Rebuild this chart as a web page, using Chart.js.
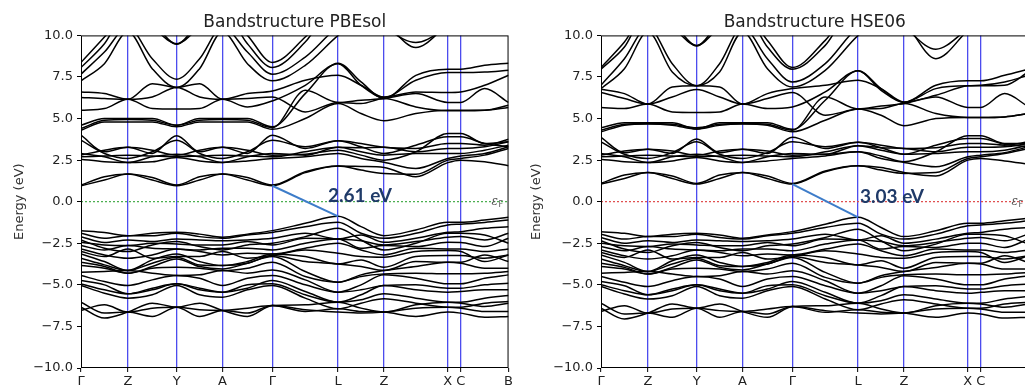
<!DOCTYPE html>
<html>
<head>
<meta charset="utf-8">
<script src="https://cdn.jsdelivr.net/npm/chart.js@4.4.1/dist/chart.umd.min.js"></script>
<style>
  html, body { margin:0; padding:0; background:#fff; width:1025px; height:385px; overflow:hidden; }
  canvas { position:absolute; top:0; }
  #c1 { left:0; }
  #c2 { left:520px; }
</style>
</head>
<body>
<canvas id="c1" width="515" height="385"></canvas>
<canvas id="c2" width="515" height="385"></canvas>
<script>
// ---- high-symmetry path ----
const kTicks  = [0, 47, 96, 142, 192, 258, 304, 368, 381, 429];
const kLabels = ['Γ', 'Z', 'Y', 'A', 'Γ', 'L', 'Z', 'X', 'C', 'B'];
// sampled k positions (high-symmetry points and midpoints)
const kSample = [0, 23.5, 47, 71.5, 96, 119, 142, 167, 192, 225, 258, 281, 304, 336, 368, 381, 405, 429];

const yTicks = [-10, -7.5, -5, -2.5, 0, 2.5, 5, 7.5, 10];

// ---- PBEsol bands (eV) ----
const pbesolHigh = [
  [8.37, 9.9, 11.5, 10.8, 9.47, 10.8, 11.5, 10.0, 8.37, 9.9, 12, 11.5, 10.5, 9.57, 10.5, 11, 12, 12],
  [8.07, 9.5, 11.5, 10.5, 9.5, 10.5, 11.5, 9.5, 8.07, 9.6, 12, 11.5, 10.8, 9.27, 10.6, 11, 12, 12],
  [7.67, 9.0, 10.5, 8.6, 7.37, 8.6, 10.5, 9.0, 7.67, 8.7, 10.5, 11, 11, 10.8, 11, 11, 11, 11],
  [7.27, 8.3, 10.2, 8.0, 6.87, 8.0, 10.2, 8.3, 7.27, 8.2, 10.0, 11, 11, 10.9, 11, 11, 11, 11]
];
const pbesolConduction = [
  [0.96, 1.3, 1.66, 1.3, 0.96, 1.3, 1.66, 1.3, 0.96, 1.75, 2.15, 2.12, 2.06, 1.5, 2.35, 2.5, 2.4, 2.16],
  [1.0, 1.5, 1.66, 1.45, 1.0, 1.5, 1.66, 1.45, 1.0, 1.8, 2.15, 1.9, 1.7, 1.65, 2.5, 2.6, 2.8, 3.2],
  [2.56, 2.4, 2.36, 2.4, 2.66, 2.45, 2.36, 2.45, 2.6, 2.7, 2.9, 2.6, 2.37, 2.0, 2.6, 2.75, 2.9, 3.3],
  [2.9, 2.7, 2.36, 2.7, 2.86, 2.7, 2.36, 2.7, 2.9, 2.8, 3.27, 3.0, 2.8, 2.9, 2.9, 2.9, 3.1, 3.4],
  [2.7, 2.75, 2.8, 2.75, 2.7, 2.75, 2.8, 2.75, 2.7, 3.0, 3.27, 3.25, 3.27, 3.0, 3.2, 3.2, 3.3, 3.6],
  [4.0, 3.0, 3.27, 2.9, 3.97, 3.0, 3.27, 2.9, 4.0, 3.2, 3.66, 3.5, 3.27, 3.2, 3.5, 3.5, 3.4, 3.75],
  [3.7, 2.9, 2.6, 3.0, 3.7, 2.9, 2.6, 3.0, 3.7, 3.3, 3.66, 3.3, 2.9, 3.4, 3.9, 3.9, 3.5, 3.3],
  [2.8, 3.1, 3.27, 3.1, 2.8, 3.1, 3.27, 3.1, 2.8, 2.85, 3.1, 2.8, 2.5, 3.0, 4.1, 4.1, 3.5, 3.6],
  [4.3, 4.8, 4.8, 4.8, 4.5, 4.8, 4.8, 4.8, 4.35, 5.0, 5.9, 5.3, 4.87, 5.3, 5.5, 5.5, 5.5, 5.8],
  [4.4, 4.9, 4.95, 4.9, 4.6, 4.9, 4.95, 4.9, 4.45, 6.7, 5.97, 6.1, 6.2, 6.5, 5.97, 5.97, 6.8, 5.97],
  [4.6, 5.0, 5.0, 5.0, 4.6, 5.0, 5.0, 5.0, 4.5, 6.5, 8.33, 7.2, 6.2, 7.6, 7.97, 7.97, 8.2, 8.33],
  [5.5, 5.6, 6.16, 5.6, 5.57, 5.6, 6.16, 5.7, 6.06, 7.0, 8.3, 7.0, 6.27, 7.3, 7.77, 7.77, 7.8, 7.9],
  [6.27, 6.2, 6.16, 6.3, 6.87, 6.3, 6.16, 6.2, 6.3, 5.4, 5.97, 5.9, 6.2, 5.7, 5.47, 5.47, 5.5, 5.67],
  [6.6, 6.5, 6.16, 7.1, 6.87, 7.1, 6.16, 6.5, 6.66, 7.3, 7.6, 7.0, 6.3, 6.6, 6.57, 6.6, 7.0, 7.6]
];
const pbesolValence = [
  [-1.74, -1.85, -2.04, -1.9, -1.84, -1.95, -2.14, -1.95, -1.74, -1.3, -0.88, -1.5, -2.04, -1.7, -1.24, -1.24, -1.1, -0.94],
  [-1.9, -2.2, -2.04, -2.05, -1.9, -2.1, -2.2, -2.0, -1.85, -1.5, -1.24, -1.9, -2.2, -1.9, -1.4, -1.35, -1.25, -1.1],
  [-2.1, -2.45, -2.3, -2.4, -2.24, -2.3, -2.35, -2.3, -2.2, -1.9, -2.24, -2.0, -2.44, -2.2, -1.84, -1.8, -1.6, -1.5],
  [-2.44, -2.6, -2.64, -2.5, -2.54, -2.6, -2.6, -2.4, -2.6, -2.2, -2.24, -2.35, -2.6, -2.4, -2.14, -2.1, -2.3, -1.9],
  [-2.64, -2.9, -2.64, -2.8, -2.84, -2.9, -2.8, -2.8, -2.9, -2.5, -2.24, -2.8, -2.64, -2.7, -2.44, -2.45, -2.7, -2.2],
  [-2.84, -3.2, -3.4, -3.2, -2.84, -3.0, -3.2, -3.1, -3.14, -2.8, -2.5, -2.9, -3.2, -2.8, -2.84, -2.84, -3.0, -2.84],
  [-3.14, -3.6, -4.14, -3.5, -3.14, -3.6, -3.84, -3.6, -3.14, -3.3, -3.74, -3.5, -3.94, -3.3, -3.24, -3.24, -3.4, -3.2],
  [-3.4, -3.8, -4.14, -3.7, -3.34, -3.8, -3.84, -3.7, -3.24, -3.6, -3.74, -3.9, -4.14, -3.6, -3.64, -3.64, -3.2, -3.6],
  [-3.64, -3.9, -4.3, -3.9, -3.44, -3.9, -4.04, -3.7, -3.3, -4.2, -4.84, -4.4, -4.14, -3.9, -3.64, -3.7, -4.0, -4.0],
  [-3.84, -4.0, -4.3, -4.0, -3.94, -4.0, -4.14, -4.0, -3.64, -4.5, -4.84, -4.5, -4.34, -4.3, -4.34, -4.34, -4.3, -4.2],
  [-4.24, -4.2, -4.14, -4.3, -4.44, -4.4, -4.14, -4.3, -4.1, -4.7, -5.44, -5.0, -4.4, -4.6, -4.94, -4.94, -4.6, -4.4],
  [-4.44, -4.8, -5.04, -4.7, -4.44, -4.6, -5.04, -4.6, -4.44, -5.0, -5.44, -5.3, -5.04, -5.0, -5.2, -5.2, -5.0, -4.9],
  [-4.74, -5.0, -5.54, -5.2, -4.94, -5.2, -5.44, -5.2, -4.74, -5.4, -6.04, -5.6, -5.04, -5.3, -5.44, -5.4, -5.3, -5.3],
  [-4.94, -5.3, -5.54, -5.3, -4.94, -5.3, -5.44, -5.0, -4.94, -5.6, -6.04, -5.9, -5.54, -5.8, -6.04, -6.04, -5.8, -5.64],
  [-5.04, -5.5, -5.8, -5.6, -5.04, -5.6, -5.74, -5.3, -5.04, -5.8, -6.44, -6.1, -5.84, -6.1, -6.34, -6.34, -6.1, -6.0],
  [-6.04, -6.7, -6.64, -6.9, -6.34, -6.9, -6.54, -6.7, -6.24, -6.6, -6.44, -6.6, -6.64, -6.9, -6.64, -6.7, -6.95, -6.9],
  [-6.54, -6.2, -6.64, -6.4, -6.34, -6.5, -6.54, -6.4, -6.24, -6.5, -6.64, -6.7, -6.64, -6.4, -6.34, -6.4, -6.6, -6.6],
  [-6.34, -7.0, -6.64, -6.1, -6.34, -6.1, -6.54, -6.9, -6.24, -6.2, -6.04, -6.4, -6.64, -6.2, -6.04, -6.1, -6.3, -6.1],
  [-3.0, -3.3, -2.84, -3.4, -3.3, -3.3, -3.0, -3.4, -3.24, -2.9, -3.1, -3.3, -3.34, -3.0, -2.94, -3.0, -3.6, -3.2],
  [-2.3, -2.8, -3.0, -2.6, -2.4, -2.7, -2.9, -2.6, -2.5, -2.1, -1.6, -2.3, -2.9, -2.5, -1.9, -1.9, -2.0, -2.5]
];
const pbesolGap = [0.96, -0.88];     // CBM at Γ, VBM at L

// ---- HSE06 bands (eV) ----
const hseHigh = [
  [8.07, 9.6, 11.5, 10.8, 9.37, 10.8, 11.5, 9.7, 8.07, 9.7, 12, 11.5, 10.5, 9.17, 10.4, 11, 12, 12],
  [7.97, 9.3, 11.5, 10.5, 9.4, 10.5, 11.5, 9.3, 7.97, 9.4, 12, 11.5, 10.8, 8.6, 10.3, 11, 12, 12],
  [7.0, 8.6, 10.5, 8.3, 6.97, 8.3, 10.5, 8.6, 7.2, 8.3, 10.5, 11, 11, 10.8, 11, 11, 11, 11],
  [6.8, 8.0, 10.2, 7.8, 6.97, 7.8, 10.2, 8.0, 6.9, 7.9, 10.0, 11, 11, 10.9, 11, 11, 11, 11]
];
const hseConduction = [
  [1.06, 1.4, 1.76, 1.4, 1.06, 1.4, 1.76, 1.4, 1.06, 1.8, 2.16, 2.05, 1.76, 1.55, 2.5, 2.6, 2.45, 2.26],
  [1.1, 1.6, 1.76, 1.55, 1.1, 1.6, 1.76, 1.55, 1.1, 1.85, 2.16, 1.9, 1.7, 1.75, 2.6, 2.7, 2.9, 3.2],
  [2.56, 2.4, 2.36, 2.45, 2.66, 2.45, 2.36, 2.45, 2.6, 2.75, 3.0, 2.6, 2.36, 2.1, 2.7, 2.8, 2.95, 3.3],
  [2.9, 2.7, 2.36, 2.7, 2.86, 2.7, 2.36, 2.7, 2.9, 2.85, 3.37, 3.1, 2.86, 2.9, 3.0, 3.0, 3.1, 3.4],
  [2.7, 2.75, 2.8, 2.75, 2.7, 2.75, 2.8, 2.75, 2.7, 3.0, 3.37, 3.25, 3.2, 3.0, 3.27, 3.27, 3.3, 3.5],
  [3.87, 2.95, 3.16, 2.9, 3.77, 2.95, 3.16, 2.9, 3.87, 3.2, 3.57, 3.4, 3.2, 3.25, 3.5, 3.5, 3.4, 3.6],
  [3.6, 2.85, 2.6, 2.95, 3.6, 2.85, 2.6, 2.95, 3.6, 3.3, 3.57, 3.25, 2.86, 3.4, 3.8, 3.8, 3.45, 3.3],
  [2.8, 3.05, 3.16, 3.05, 2.8, 3.05, 3.16, 3.05, 2.8, 2.85, 3.0, 2.75, 2.4, 3.0, 3.97, 3.97, 3.5, 3.5],
  [4.2, 4.6, 4.67, 4.6, 4.37, 4.6, 4.67, 4.6, 4.2, 4.9, 5.57, 5.2, 4.57, 5.0, 5.07, 5.07, 5.1, 5.3],
  [4.3, 4.65, 4.7, 4.65, 4.45, 4.65, 4.7, 4.65, 4.3, 6.3, 5.57, 5.75, 5.9, 6.3, 5.67, 5.67, 6.5, 5.7],
  [4.45, 4.75, 4.75, 4.75, 4.37, 4.75, 4.75, 4.75, 4.35, 6.1, 7.87, 6.8, 5.97, 7.0, 7.27, 7.27, 7.6, 7.97],
  [5.67, 5.6, 5.87, 5.4, 5.37, 5.4, 5.87, 5.6, 5.7, 6.6, 7.87, 6.7, 5.97, 6.8, 6.97, 6.97, 7.0, 7.8],
  [6.57, 6.2, 5.87, 6.3, 6.75, 6.3, 5.87, 6.2, 6.57, 5.2, 5.57, 5.6, 5.9, 5.3, 5.07, 5.07, 5.1, 5.3],
  [6.77, 6.5, 5.87, 6.9, 6.97, 6.9, 5.87, 6.5, 6.8, 7.0, 7.3, 6.8, 6.0, 6.4, 6.97, 7.0, 7.2, 7.6]
];
const hseValence = [
  [-1.8, -1.9, -2.1, -1.95, -1.9, -2.0, -2.2, -2.0, -1.8, -1.35, -0.94, -1.55, -2.1, -1.75, -1.3, -1.3, -1.15, -1.0],
  [-1.95, -2.25, -2.1, -2.1, -1.95, -2.15, -2.25, -2.05, -1.9, -1.55, -1.3, -1.95, -2.25, -1.95, -1.45, -1.4, -1.3, -1.15],
  [-2.15, -2.5, -2.35, -2.45, -2.3, -2.35, -2.4, -2.35, -2.25, -1.95, -2.3, -2.05, -2.5, -2.25, -1.9, -1.85, -1.65, -1.55],
  [-2.5, -2.65, -2.7, -2.55, -2.6, -2.65, -2.65, -2.45, -2.65, -2.25, -2.3, -2.4, -2.65, -2.45, -2.2, -2.15, -2.35, -1.95],
  [-2.7, -2.95, -2.7, -2.85, -2.9, -2.95, -2.85, -2.85, -2.95, -2.55, -2.3, -2.85, -2.7, -2.75, -2.5, -2.5, -2.75, -2.25],
  [-2.9, -3.25, -3.45, -3.25, -2.9, -3.05, -3.25, -3.15, -3.2, -2.85, -2.55, -2.95, -3.25, -2.85, -2.9, -2.9, -3.05, -2.9],
  [-3.2, -3.65, -4.2, -3.55, -3.2, -3.65, -3.9, -3.65, -3.2, -3.35, -3.8, -3.55, -4.0, -3.35, -3.3, -3.3, -3.45, -3.25],
  [-3.45, -3.85, -4.2, -3.75, -3.4, -3.85, -3.9, -3.75, -3.3, -3.65, -3.8, -3.95, -4.2, -3.65, -3.7, -3.7, -3.25, -3.65],
  [-3.7, -3.95, -4.35, -3.95, -3.5, -3.95, -4.1, -3.75, -3.35, -4.25, -4.9, -4.45, -4.2, -3.95, -3.7, -3.75, -4.05, -4.05],
  [-3.9, -4.05, -4.35, -4.05, -4.0, -4.05, -4.2, -4.05, -3.7, -4.55, -4.9, -4.55, -4.4, -4.35, -4.4, -4.4, -4.35, -4.25],
  [-4.3, -4.25, -4.2, -4.35, -4.5, -4.45, -4.2, -4.35, -4.15, -4.75, -5.5, -5.05, -4.45, -4.65, -5.0, -5.0, -4.65, -4.45],
  [-4.5, -4.85, -5.1, -4.75, -4.5, -4.65, -5.1, -4.65, -4.5, -5.05, -5.5, -5.35, -5.1, -5.05, -5.25, -5.25, -5.05, -4.95],
  [-4.8, -5.05, -5.6, -5.25, -5.0, -5.25, -5.5, -5.25, -4.8, -5.45, -6.1, -5.65, -5.1, -5.35, -5.5, -5.45, -5.35, -5.35],
  [-5.0, -5.35, -5.6, -5.35, -5.0, -5.35, -5.5, -5.05, -5.0, -5.65, -6.1, -5.95, -5.6, -5.85, -6.1, -6.1, -5.85, -5.7],
  [-5.1, -5.55, -5.85, -5.65, -5.1, -5.65, -5.8, -5.35, -5.1, -5.85, -6.5, -6.15, -5.9, -6.15, -6.4, -6.4, -6.15, -6.05],
  [-6.1, -6.75, -6.7, -6.95, -6.4, -6.95, -6.6, -6.75, -6.3, -6.65, -6.5, -6.65, -6.7, -6.95, -6.7, -6.75, -7.0, -6.95],
  [-6.6, -6.25, -6.7, -6.45, -6.4, -6.55, -6.6, -6.45, -6.3, -6.55, -6.7, -6.75, -6.7, -6.45, -6.4, -6.45, -6.65, -6.65],
  [-6.4, -7.05, -6.7, -6.15, -6.4, -6.15, -6.6, -6.95, -6.3, -6.25, -6.1, -6.45, -6.7, -6.25, -6.1, -6.15, -6.35, -6.15],
  [-3.05, -3.35, -2.9, -3.45, -3.35, -3.35, -3.05, -3.45, -3.3, -2.95, -3.15, -3.35, -3.4, -3.05, -3.0, -3.05, -3.65, -3.25],
  [-2.35, -2.85, -3.05, -2.65, -2.45, -2.75, -2.95, -2.65, -2.55, -2.15, -1.65, -2.35, -2.95, -2.55, -1.95, -1.95, -2.05, -2.55]
];
const hseGap = [1.06, -0.94];

Chart.defaults.font.family = "'DejaVu Sans', sans-serif";
Chart.defaults.color = '#222';

const framePlugin = {
  id: 'frameAndLabels',
  afterDatasetsDraw(chart, args, opts) {
    const { ctx, chartArea: a, scales: { x, y } } = chart;
    ctx.save();
    ctx.strokeStyle = '#000';
    ctx.lineWidth = 1;
    ctx.strokeRect(a.left + 0.5, a.top + 0.5, a.right - a.left - 1, a.bottom - a.top - 1);
    // gap label
    ctx.font = "bold 19px Lato, 'DejaVu Sans', sans-serif";
    ctx.fillStyle = '#1f3a68';
    ctx.textAlign = 'center';
    ctx.textBaseline = 'middle';
    ctx.fillText(opts.gapText, x.getPixelForValue(opts.gapX), y.getPixelForValue(opts.gapY));
    // Fermi label
    const fx = x.getPixelForValue(opts.fermiX), fy = y.getPixelForValue(0);
    ctx.fillStyle = '#555';
    ctx.font = "italic 12px 'DejaVu Serif', serif";
    ctx.textAlign = 'left';
    ctx.fillText('ε', fx, fy);
    ctx.font = "8px 'DejaVu Sans', sans-serif";
    ctx.fillText('F', fx + 7, fy + 3);
    ctx.restore();
  }
};

function makeChart(id, title, high, cond, val, gap, fermiColor, gapText, gapX, gapY) {
  const toPts = band => kSample.map((k, i) => ({ x: k, y: band[i] }));
  const datasets = [
    { data: [{ x: kTicks[4], y: gap[0] }, { x: kTicks[5], y: gap[1] }],
      borderColor: '#3d7cc9', borderWidth: 2, tension: 0 },
    { data: [{ x: kTicks[0], y: 0 }, { x: kTicks[kTicks.length - 1], y: 0 }],
      borderColor: fermiColor, borderWidth: 1.2, borderDash: [2, 2], tension: 0 }
  ];
  [...high, ...cond, ...val].forEach(b => datasets.push({
    data: toPts(b), borderColor: '#000', borderWidth: 1.5,
    cubicInterpolationMode: 'monotone'
  }));
  const last = kTicks.length - 1;
  return new Chart(document.getElementById(id), {
    type: 'line',
    data: { datasets },
    plugins: [framePlugin],
    options: {
      responsive: false,
      animation: false,
      events: [],
      layout: { padding: { left: 0, right: 5, top: 0, bottom: 0 } },
      elements: { point: { radius: 0 } },
      plugins: {
        legend: { display: false },
        tooltip: { enabled: false },
        title: { display: true, text: title, fullSize: false,
                 font: { size: 17, weight: 'normal' }, color: '#222',
                 padding: { top: 12, bottom: 3 } },
        frameAndLabels: { gapText, gapX, gapY, fermiX: 412 }
      },
      scales: {
        x: {
          type: 'linear', min: kTicks[0], max: kTicks[last],
          afterBuildTicks: s => { s.ticks = kTicks.map(v => ({ value: v })); },
          afterFit: s => { s.height = 17; },
          ticks: { autoSkip: false, maxRotation: 0, padding: 2,
                   font: { size: 13 }, color: '#222',
                   callback: (v, i) => kLabels[i] },
          grid: { drawOnChartArea: true,
                  color: c => (c.index === 0 || c.index === last) ? 'rgba(0,0,0,0)' : 'rgba(45,45,235,0.85)',
                  lineWidth: 1.3,
                  tickColor: '#000', tickLength: 4, tickWidth: 1 },
          border: { display: false }
        },
        y: {
          type: 'linear', min: yTicks[0], max: yTicks[yTicks.length - 1],
          afterBuildTicks: s => { s.ticks = yTicks.map(v => ({ value: v })); },
          afterFit: s => { s.width = 81; },
          ticks: { padding: 4, font: { size: 13 }, color: '#222',
                   callback: v => (v < 0 ? '\u2212' : '') + Math.abs(v).toFixed(1) },
          grid: { drawOnChartArea: false, tickLength: 4, color: '#000' },
          border: { display: false },
          title: { display: true, text: 'Energy (eV)', font: { size: 13 }, color: '#333',
                   padding: { top: id === 'c1' ? 12 : 9, bottom: 0 } }
        }
      }
    }
  });
}

makeChart('c1', 'Bandstructure PBEsol', pbesolHigh, pbesolConduction, pbesolValence, pbesolGap,
          '#4caf50', '2.61 eV', 280, 0.36);
makeChart('c2', 'Bandstructure HSE06', hseHigh, hseConduction, hseValence, hseGap,
          '#e05050', '3.03 eV', 292, 0.3);
</script>
</body>
</html>
